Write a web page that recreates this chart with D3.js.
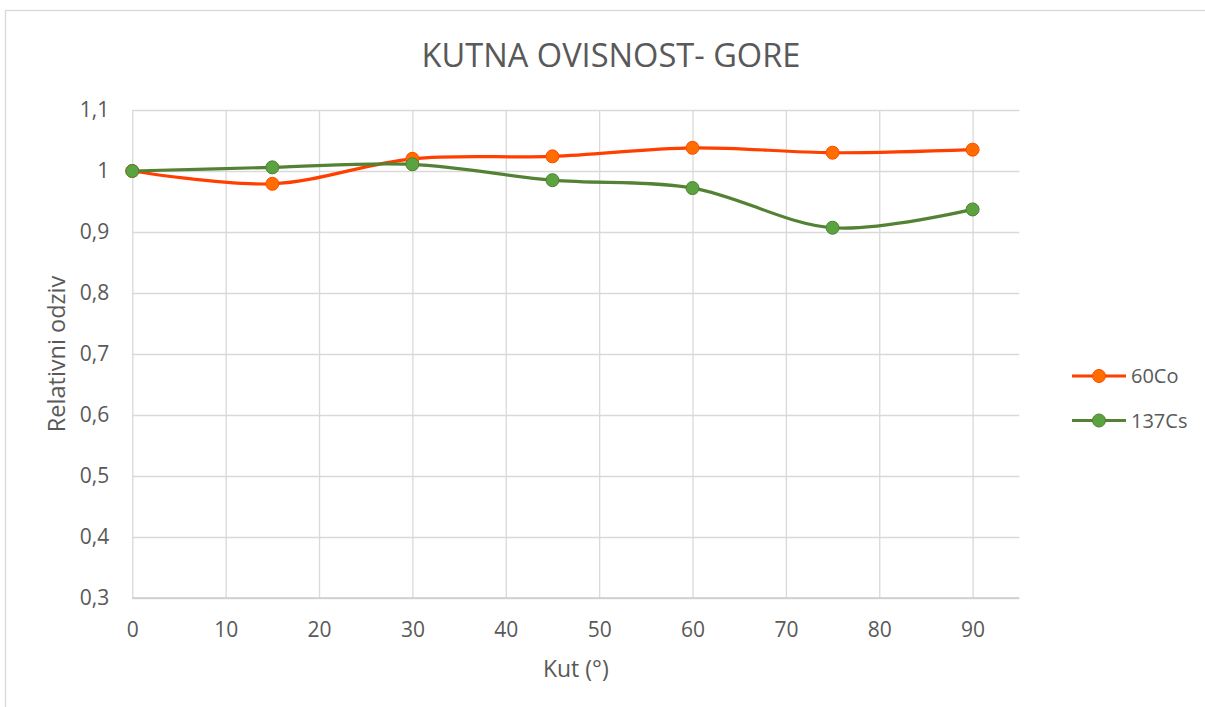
<!DOCTYPE html>
<html>
<head>
<meta charset="utf-8">
<script src="https://cdn.jsdelivr.net/npm/d3@7/dist/d3.min.js"></script>
<style>
  html, body { margin: 0; padding: 0; background: #fff; }
  svg { display: block; }
  text { font-family: "Open Sans", sans-serif; fill: #595959; }
</style>
</head>
<body>
<svg id="chart" width="1205" height="707"></svg>
<script>
// Angle (degrees) and relative response of the two sources
const angles = [0, 15, 30, 45, 60, 75, 90];
const co60 = [1.000, 0.979, 1.020, 1.024, 1.038, 1.030, 1.035];
const cs137 = [1.000, 1.006, 1.011, 0.985, 0.972, 0.907, 0.937];
const seriesNames = ["60Co", "137Cs"];
const xTicks = [0, 10, 20, 30, 40, 50, 60, 70, 80, 90];
const yTicks = [0.3, 0.4, 0.5, 0.6, 0.7, 0.8, 0.9, 1.0, 1.1];
const titleText = "KUTNA OVISNOST- GORE";
const xTitle = "Kut (°)";
const yTitle = "Relativni odziv";

const series = [
  { name: seriesNames[0], values: co60, line: "#ff3f00", fill: "#ff6d00", stroke: "#ff4a00" },
  { name: seriesNames[1], values: cs137, line: "#548235", fill: "#5aa33f", stroke: "#4f7f34" }
];

const svg = d3.select("#chart");

// Outer chart frame
svg.append("rect")
  .attr("x", 5.5).attr("y", 10.5)
  .attr("width", 1300).attr("height", 800)
  .attr("fill", "#fff").attr("stroke", "#d9d9d9").attr("stroke-width", 1.3);

const plot = { left: 132.3, right: 1019.3, top: 110, bottom: 598 };

const x = d3.scaleLinear().domain([0, 95]).range([plot.left, plot.right]);
const y = d3.scaleLinear().domain([0.3, 1.1]).range([plot.bottom, plot.top]);

const fmt = v => d3.format(".1f")(v).replace(".", ",").replace(/,0$/, "");

// Horizontal gridlines + y labels
const yAxis = d3.axisLeft(y).tickValues(yTicks)
  .tickSize(-(plot.right - plot.left)).tickPadding(23).tickFormat(fmt);
const gy = svg.append("g").attr("transform", `translate(${plot.left},0)`).call(yAxis);
gy.select(".domain").remove();
gy.selectAll(".tick line").attr("stroke", "#d9d9d9").attr("stroke-width", 1.3);
gy.selectAll(".tick text").attr("font-size", 21).attr("fill", "#595959")
  .attr("font-family", "Open Sans, sans-serif");

// Vertical gridlines + x labels
const xAxis = d3.axisBottom(x).tickValues(xTicks)
  .tickSize(-(plot.bottom - plot.top)).tickPadding(24).tickFormat(d3.format("d"));
const gx = svg.append("g").attr("transform", `translate(0,${plot.bottom})`).call(xAxis);
gx.select(".domain").remove();
gx.selectAll(".tick line").attr("stroke", "#d9d9d9").attr("stroke-width", 1.3);
gx.selectAll(".tick text").attr("font-size", 21).attr("fill", "#595959")
  .attr("font-family", "Open Sans, sans-serif");

// Bottom axis line
svg.append("line")
  .attr("x1", plot.left).attr("x2", plot.right)
  .attr("y1", y(0.3)).attr("y2", y(0.3))
  .attr("stroke", "#cccccc").attr("stroke-width", 1.5);

// Smoothed series lines with markers
const line = d3.line()
  .x((d, i) => x(angles[i]))
  .y(d => y(d))
  .curve(d3.curveCatmullRom.alpha(0.5));

series.forEach(s => {
  svg.append("path")
    .attr("d", line(s.values))
    .attr("fill", "none")
    .attr("stroke", s.line)
    .attr("stroke-width", 3.2)
    .attr("stroke-linejoin", "round");
});
series.forEach(s => {
  svg.append("g").selectAll("circle")
    .data(s.values)
    .join("circle")
    .attr("cx", (d, i) => x(angles[i]))
    .attr("cy", d => y(d))
    .attr("r", 6.5)
    .attr("fill", s.fill)
    .attr("stroke", s.stroke)
    .attr("stroke-width", 1);
});

// Title
svg.append("text")
  .attr("x", 611).attr("y", 66.5)
  .attr("text-anchor", "middle")
  .attr("font-size", 32.6)
  .text(titleText);

// Axis titles
svg.append("text")
  .attr("x", (plot.left + plot.right) / 2).attr("y", 676.5)
  .attr("text-anchor", "middle")
  .attr("font-size", 23)
  .text(xTitle);

svg.append("text")
  .attr("transform", `translate(65,${(plot.top + plot.bottom) / 2}) rotate(-90)`)
  .attr("text-anchor", "middle")
  .attr("font-size", 23.5)
  .text(yTitle);

// Legend
const legendY = [376, 420.5];
series.forEach((s, i) => {
  const g = svg.append("g").attr("transform", `translate(0,${legendY[i]})`);
  g.append("line")
    .attr("x1", 1072).attr("x2", 1126)
    .attr("y1", 0).attr("y2", 0)
    .attr("stroke", s.line).attr("stroke-width", 3.2);
  g.append("circle")
    .attr("cx", 1099).attr("cy", 0).attr("r", 6.5)
    .attr("fill", s.fill).attr("stroke", s.stroke).attr("stroke-width", 1);
  g.append("text")
    .attr("x", 1131).attr("y", 0)
    .attr("dy", "0.35em")
    .attr("font-size", 20)
    .text(s.name);
});
</script>
</body>
</html>
